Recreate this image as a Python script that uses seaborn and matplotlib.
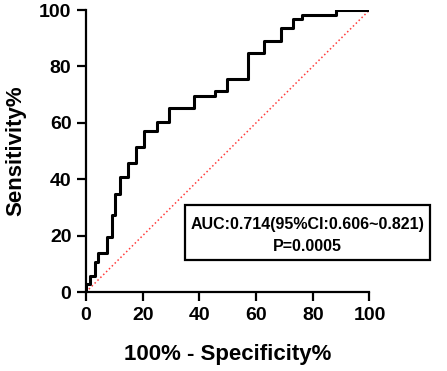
import matplotlib
matplotlib.use('Agg')
import matplotlib.pyplot as plt
import seaborn as sns
from matplotlib.patches import Rectangle

# ROC step corners (100% - specificity, sensitivity)
fpr = [0, 0, 1.5, 3.0, 4.4, 7.3, 9.1, 10.3, 12.0, 14.7, 17.6, 20.5, 25.0,
       29.4, 38.1, 45.5, 49.6, 57.3, 62.8, 68.7, 73.1, 76.1, 88.1, 100]
tpr = [0, 2.9, 5.7, 10.7, 13.7, 19.6, 27.3, 34.8, 40.7, 45.6, 51.3, 57.2,
       60.4, 65.1, 69.5, 71.2, 75.5, 84.8, 89.0, 93.8, 96.7, 98.4, 100, 100]
ref_line = [0, 100]
ticks = [0, 20, 40, 60, 80, 100]
auc_text = 'AUC:0.714(95%CI:0.606~0.821)'
p_text = 'P=0.0005'

sns.set_style('ticks')
plt.rcParams['font.family'] = ['Liberation Sans', 'DejaVu Sans']
plt.rcParams['font.weight'] = 'bold'
plt.rcParams['text.color'] = 'black'
plt.rcParams['axes.labelcolor'] = 'black'

fig = plt.figure(figsize=(4.47, 3.71), dpi=100)
ax = fig.add_axes([0.1924, 0.2129, 0.6342, 0.7601])

sns.lineplot(x=ref_line, y=ref_line, ax=ax, color='#ff3b3b', linestyle=':',
             linewidth=1.1, estimator=None, sort=False)
sns.lineplot(x=fpr, y=tpr, ax=ax, color='black', linewidth=2.2,
             estimator=None, sort=False, drawstyle='steps-post')

ax.set_xlim(0, 100)
ax.set_ylim(0, 100)
ax.set_xticks(ticks)
ax.set_yticks(ticks)
sns.despine(ax=ax)
for s in ['left', 'bottom']:
    ax.spines[s].set_linewidth(1.6)
    ax.spines[s].set_color('black')
ax.tick_params(width=1.6, length=6.5, pad=4, labelsize=14, colors='black')
for lab in ax.get_xticklabels() + ax.get_yticklabels():
    lab.set_fontweight('bold')
ax.set_xlabel('100% - Specificity%', fontsize=16, fontweight='bold', labelpad=15, color='black')
ax.set_ylabel('Sensitivity%', fontsize=16, fontweight='bold', labelpad=9, color='black')

fig.patches.append(Rectangle((0.4139, 0.2992), 0.548, 0.1482, transform=fig.transFigure,
                             fill=False, edgecolor='black', linewidth=1.6))
fig.text(0.688, 0.3962, auc_text, ha='center', va='center', fontsize=11.5,
         fontweight='bold', color='black')
fig.text(0.688, 0.3369, p_text, ha='center', va='center', fontsize=11.5,
         fontweight='bold', color='black')

fig.savefig('out.png', dpi=100)
